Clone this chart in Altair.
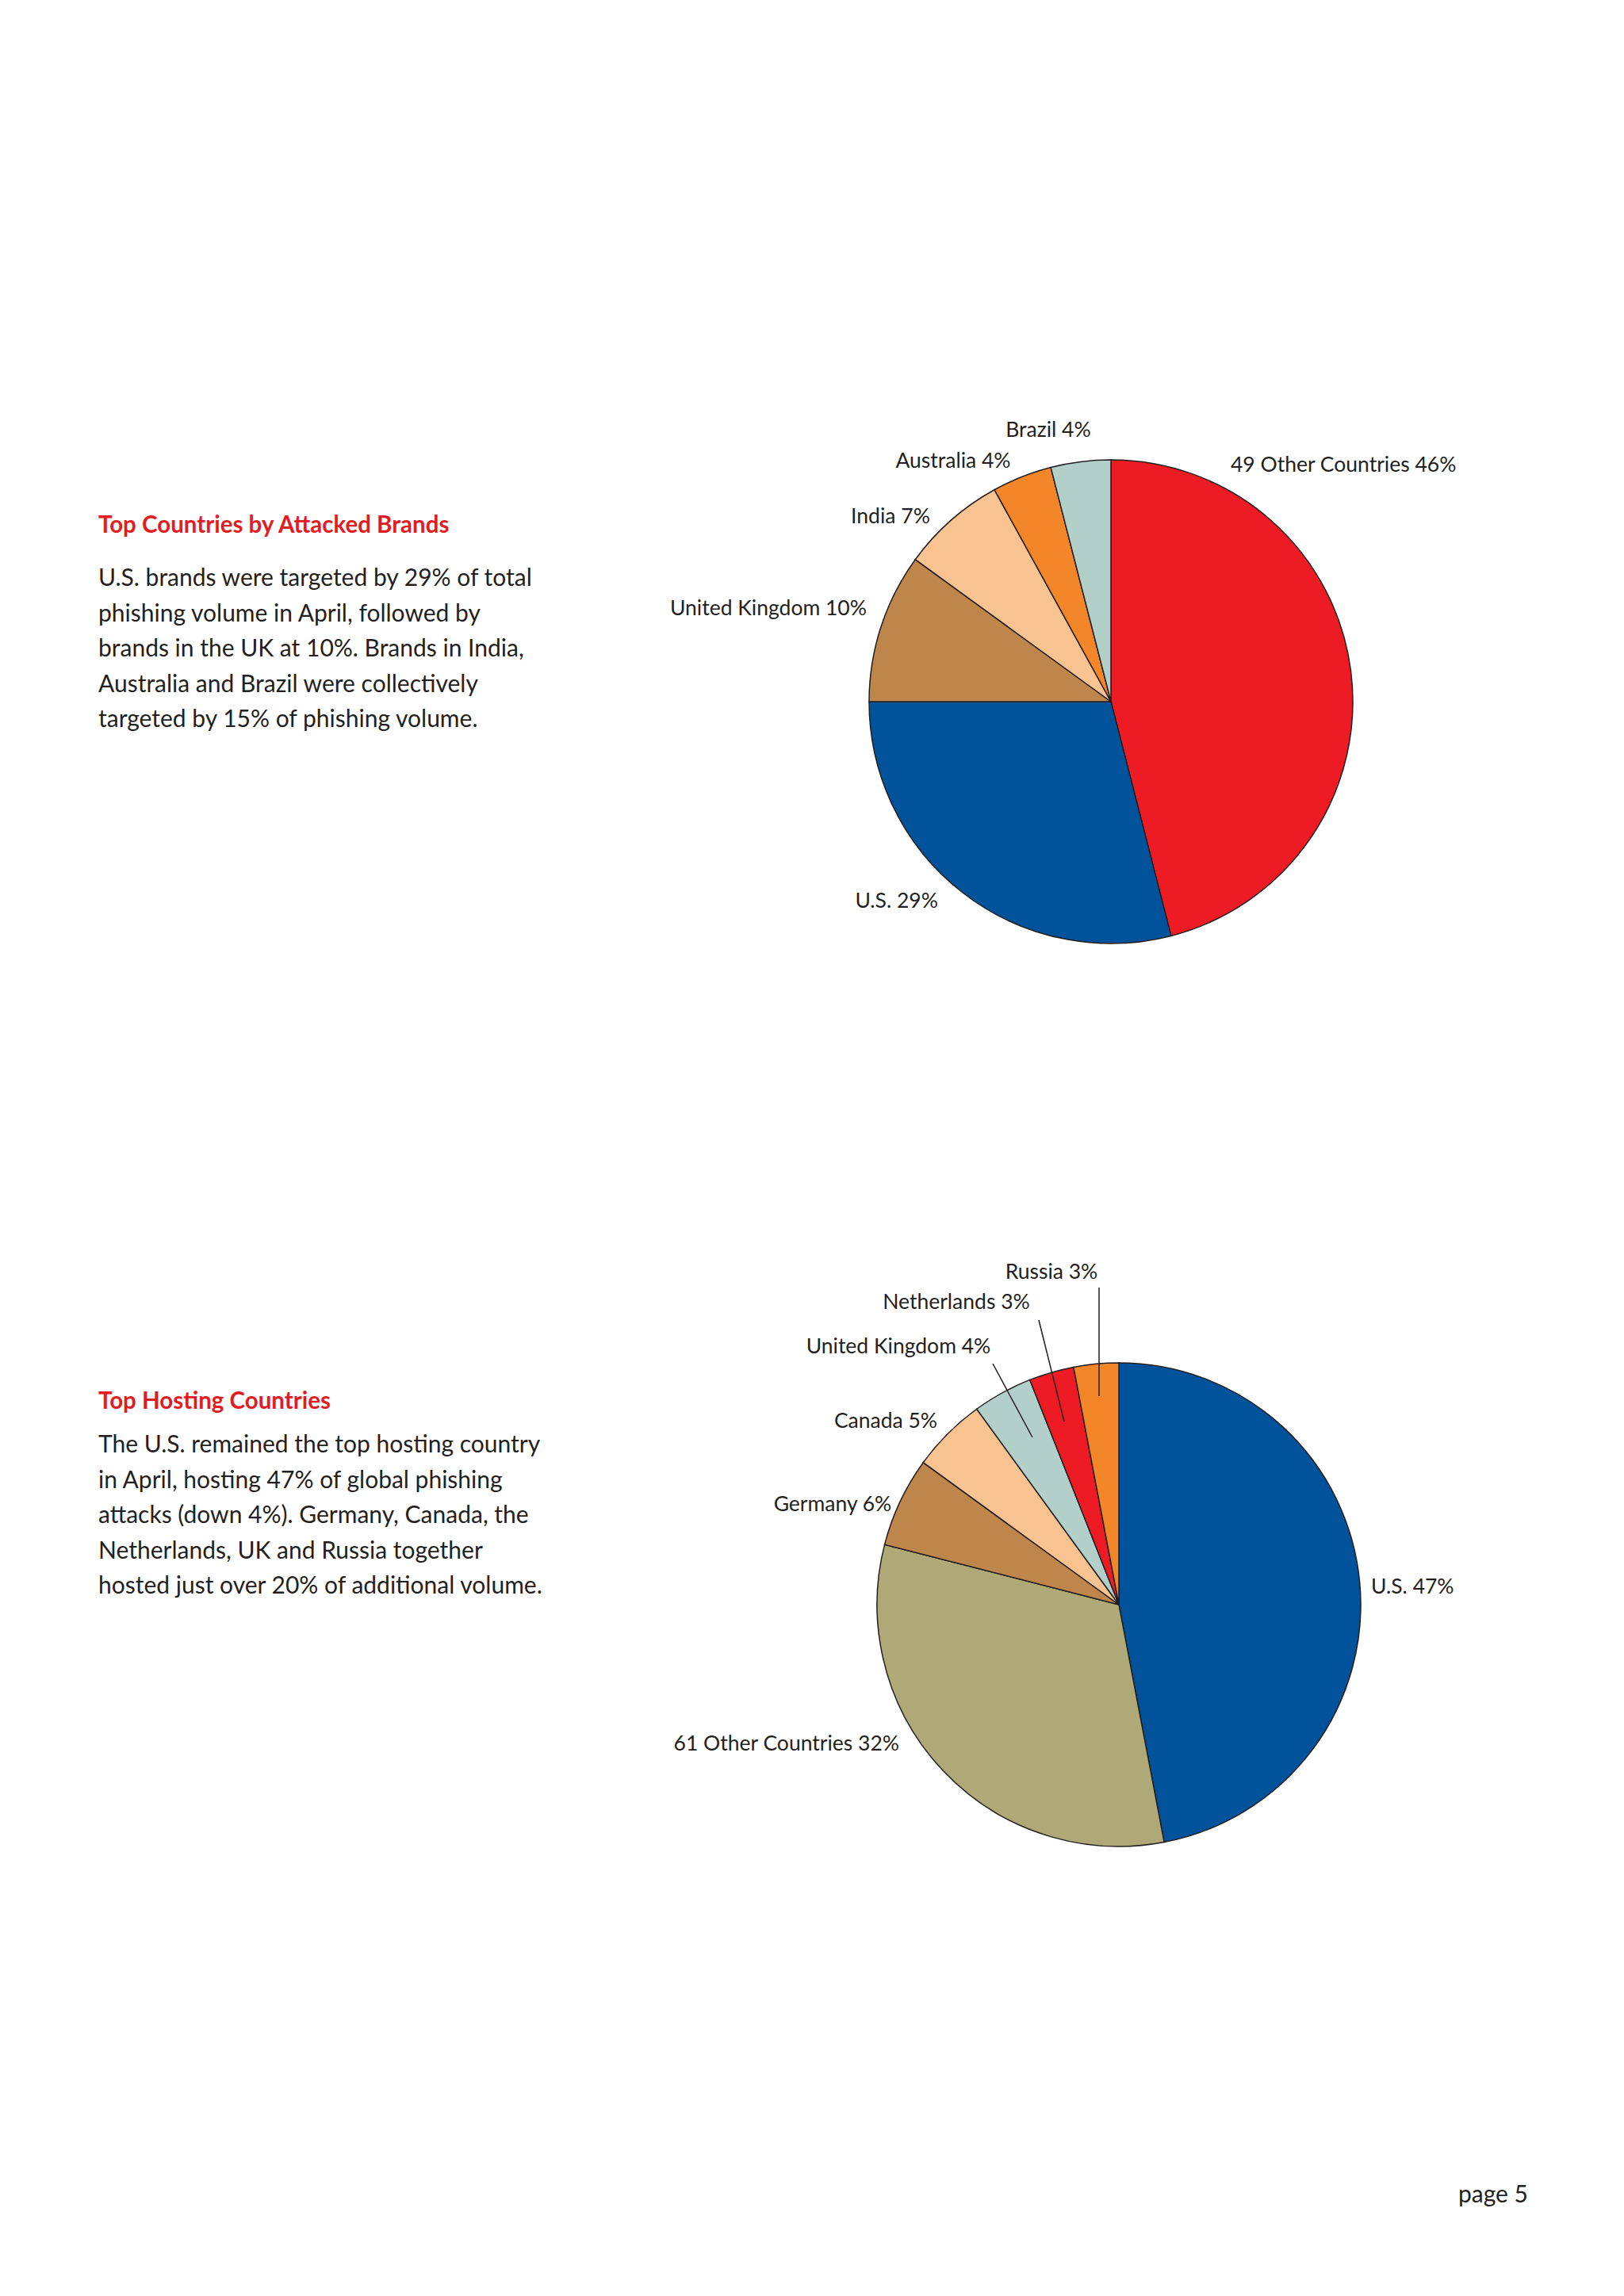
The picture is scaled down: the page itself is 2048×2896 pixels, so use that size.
import altair as alt
import pandas as pd

# ---- data ----
brand_names = ["49 Other Countries", "U.S.", "United Kingdom", "India", "Australia", "Brazil"]
brand_values = [46, 29, 10, 7, 4, 4]
brand_colors = ["#ed1c24", "#00539a", "#bf864c", "#f9c291", "#f4862a", "#b3cfca"]

host_names = ["U.S.", "61 Other Countries", "Germany", "Canada", "United Kingdom", "Netherlands", "Russia"]
host_values = [47, 32, 6, 5, 4, 3, 3]
host_colors = ["#00539a", "#aea976", "#bf864c", "#f9c291", "#b3cfca", "#ed1c24", "#f4862a"]

heading1 = "Top Countries by Attacked Brands"
body1 = ["U.S. brands were targeted by 29% of total",
         "phishing volume in April, followed by",
         "brands in the UK at 10%. Brands in India,",
         "Australia and Brazil were collectively",
         "targeted by 15% of phishing volume."]
heading2 = "Top Hosting Countries"
body2 = ["The U.S. remained the top hosting country",
         "in April, hosting 47% of global phishing",
         "attacks (down 4%). Germany, Canada, the",
         "Netherlands, UK and Russia together",
         "hosted just over 20% of additional volume."]
page_label = "page 5"

# ---- layout (styles/positions, not data) ----
FONT = "Lato"
INK = "#231f20"
RED = "#e31b23"
R = 305
C1 = (1393, 877)
C2 = (1403, 2016)
LABEL_SIZE = 26.5

brand_label_pos = {
    "49 Other Countries": ("left", 1544, 579),
    "U.S.": ("right", 1175, 1129),
    "United Kingdom": ("right", 1085, 760),
    "India": ("center", 1115, 644),
    "Australia": ("center", 1194, 574),
    "Brazil": ("center", 1314, 535),
}
host_label_pos = {
    "U.S.": ("left", 1721, 1994),
    "61 Other Countries": ("right", 1126, 2192),
    "Germany": ("center", 1042, 1890),
    "Canada": ("center", 1109, 1785),
    "United Kingdom": ("center", 1125, 1691),
    "Netherlands": ("center", 1198, 1635),
    "Russia": ("center", 1318, 1597),
}
leaders = [((1378, 1616), (1378, 1753)),
           ((1302, 1657), (1334, 1785)),
           ((1244, 1712), (1294, 1805))]

one = pd.DataFrame({"k": [0]})


def pie(names, values, colors, center, key):
    df = pd.DataFrame({key: names, "value": values, "idx": list(range(len(names)))})
    return alt.Chart(df).mark_arc(radius=R, stroke=INK, strokeWidth=1.5).encode(
        theta=alt.Theta("value:Q", stack=True),
        color=alt.Color(f"{key}:N", scale=alt.Scale(domain=names, range=colors), legend=None),
        order=alt.Order("idx:Q"),
        x=alt.value(center[0]),
        y=alt.value(center[1]),
    )


def labels(names, values, pos):
    out = []
    for n, v in zip(names, values):
        a, x, y = pos[n]
        out.append(alt.Chart(one).mark_text(
            text=f"{n} {v}%", font=FONT, fontSize=LABEL_SIZE, color=INK,
            align=a, baseline="middle").encode(x=alt.value(x), y=alt.value(y)))
    return out


def text_block(heading, lines, x, y_head, y_body):
    h = alt.Chart(one).mark_text(text=heading, font=FONT, fontSize=29.5, fontWeight="bold",
                                 color=RED, align="left", baseline="alphabetic").encode(
        x=alt.value(x), y=alt.value(y_head))
    b = alt.Chart(one).mark_text(text=lines, font=FONT, fontSize=30, color=INK,
                                 align="left", baseline="alphabetic", lineHeight=44.5).encode(
        x=alt.value(x), y=alt.value(y_body))
    return [h, b]


layers = []
layers.append(pie(brand_names, brand_values, brand_colors, C1, "brand"))
layers.append(pie(host_names, host_values, host_colors, C2, "host"))
layers += labels(brand_names, brand_values, brand_label_pos)
layers += labels(host_names, host_values, host_label_pos)
for (x1, y1), (x2, y2) in leaders:
    layers.append(alt.Chart(one).mark_rule(color=INK, strokeWidth=1.5).encode(
        x=alt.value(x1), y=alt.value(y1), x2=alt.value(x2), y2=alt.value(y2)))
layers += text_block(heading1, body1, 116, 664, 731)
layers += text_block(heading2, body2, 116, 1769, 1824)
layers.append(alt.Chart(one).mark_text(text=page_label, font=FONT, fontSize=30, color=INK,
                                       align="right", baseline="alphabetic").encode(
    x=alt.value(1919), y=alt.value(2770)))

chart = alt.layer(*layers).resolve_scale(color="independent", theta="independent").properties(
    width=2032, height=2872, padding=0, autosize=alt.AutoSizeParams(type="none"),
    background="#ffffff",
).configure_view(strokeWidth=0)

chart.save("out.html", embed_options={"renderer": "svg", "actions": False})
